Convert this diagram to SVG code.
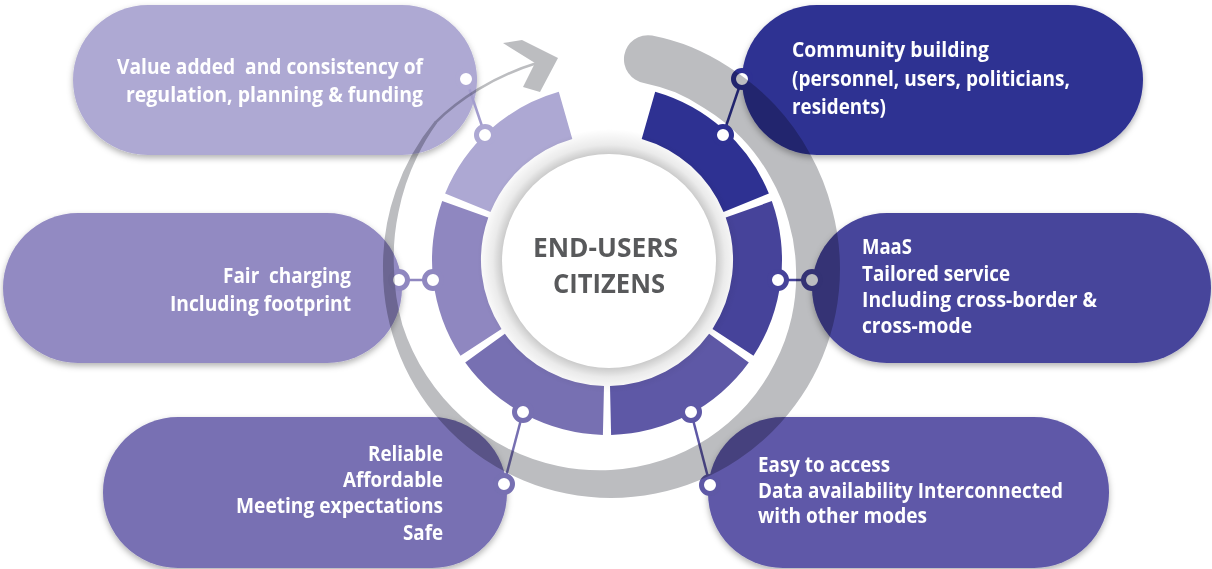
<svg xmlns="http://www.w3.org/2000/svg" width="1212" height="569" viewBox="0 0 1212 569">
<defs>
<style>
.t{font-family:"Open Sans","Noto Sans","Liberation Sans",sans-serif;font-weight:700;font-size:20.5px;fill:#ffffff}
.c{font-family:"Open Sans","Noto Sans","Liberation Sans",sans-serif;font-weight:700;font-size:26px;fill:#58595B}
.pill{filter:url(#sh)}
.ln{stroke-width:2.5;fill:none}
.dot{fill:#ffffff;stroke-width:5}
</style>
<filter id="sh" x="-10%" y="-20%" width="120%" height="140%">
<feDropShadow dx="0" dy="3" stdDeviation="3" flood-color="#000" flood-opacity="0.3"/>
</filter>
<radialGradient id="halo" cx="609" cy="261" r="132" gradientUnits="userSpaceOnUse">
<stop offset="0.79" stop-color="#000" stop-opacity="0.24"/>
<stop offset="0.88" stop-color="#000" stop-opacity="0.08"/>
<stop offset="1" stop-color="#000" stop-opacity="0"/>
</radialGradient>
</defs>
<rect width="1212" height="569" fill="#ffffff"/>

<g id="node-value">
<rect class="pill" x="73" y="5" width="404" height="150" rx="75" fill="#AEA9D3"/>
<text class="t" xml:space="preserve" x="117" y="74" textLength="306" lengthAdjust="spacingAndGlyphs">Value added  and consistency of</text>
<text class="t" x="126" y="102" textLength="297" lengthAdjust="spacingAndGlyphs">regulation, planning &amp; funding</text>
</g>
<g id="node-fair">
<rect class="pill" x="3" y="213" width="399" height="150" rx="75" fill="#928AC2"/>
<text class="t" xml:space="preserve" x="223" y="283" textLength="128" lengthAdjust="spacingAndGlyphs">Fair  charging</text>
<text class="t" x="170" y="311" textLength="181" lengthAdjust="spacingAndGlyphs">Including footprint</text>
</g>
<g id="node-reliable">
<rect class="pill" x="103" y="417" width="404" height="151" rx="75" fill="#7870B3"/>
<text class="t" x="368" y="461" textLength="75" lengthAdjust="spacingAndGlyphs">Reliable</text>
<text class="t" x="343" y="487" textLength="100" lengthAdjust="spacingAndGlyphs">Affordable</text>
<text class="t" x="236" y="513" textLength="207" lengthAdjust="spacingAndGlyphs">Meeting expectations</text>
<text class="t" x="403" y="540" textLength="40" lengthAdjust="spacingAndGlyphs">Safe</text>
</g>
<g id="node-easy">
<rect class="pill" x="708" y="417" width="401" height="151" rx="75" fill="#5F59A8"/>
<text class="t" x="758" y="472" textLength="132" lengthAdjust="spacingAndGlyphs">Easy to access</text>
<text class="t" x="758" y="498" textLength="305" lengthAdjust="spacingAndGlyphs">Data availability Interconnected</text>
<text class="t" x="758" y="523" textLength="169" lengthAdjust="spacingAndGlyphs">with other modes</text>
</g>
<g id="node-maas">
<rect class="pill" x="812" y="213" width="399" height="150" rx="75" fill="#47449B"/>
<text class="t" x="862" y="254" textLength="50" lengthAdjust="spacingAndGlyphs">MaaS</text>
<text class="t" x="862" y="281" textLength="148" lengthAdjust="spacingAndGlyphs">Tailored service</text>
<text class="t" x="862" y="307" textLength="235" lengthAdjust="spacingAndGlyphs">Including cross-border &amp;</text>
<text class="t" x="862" y="333" textLength="110" lengthAdjust="spacingAndGlyphs">cross-mode</text>
</g>
<g id="node-community">
<rect class="pill" x="742" y="5" width="401" height="150" rx="75" fill="#2E3192"/>
<text class="t" x="792" y="57" textLength="197" lengthAdjust="spacingAndGlyphs">Community building</text>
<text class="t" x="792" y="86" textLength="278" lengthAdjust="spacingAndGlyphs">(personnel, users, politicians,</text>
<text class="t" x="792" y="114" textLength="94" lengthAdjust="spacingAndGlyphs">residents)</text>
</g>

<g id="ring">
<path d="M655.2 91.8 A175 175 0 0 1 768.9 193.5 L723.5 212.1 A126 126 0 0 0 641.7 138.9 Z" fill="#2E3192"/>
<path d="M771.8 201.1 A175 175 0 0 1 753.5 355.7 L712.5 328.9 A126 126 0 0 0 725.7 217.6 Z" fill="#46439A"/>
<path d="M748.8 362.5 A175 175 0 0 1 611.1 434.9 L610 386 A126 126 0 0 0 709.1 333.8 Z" fill="#5E58A6"/>
<path d="M602.9 434.9 A175 175 0 0 1 465.2 362.5 L504.9 333.8 A126 126 0 0 0 604 386 Z" fill="#7770B2"/>
<path d="M460.5 355.7 A175 175 0 0 1 442.2 201.1 L488.3 217.6 A126 126 0 0 0 501.5 328.9 Z" fill="#8F87C0"/>
<path d="M445.1 193.5 A175 175 0 0 1 558.8 91.8 L572.3 138.9 A126 126 0 0 0 490.5 212.1 Z" fill="#ADA8D3"/>
</g>

<g id="center">
<circle cx="609" cy="261" r="132" fill="url(#halo)"/>
<circle cx="609" cy="261" r="107" fill="#ffffff"/>
<text class="c" x="533" y="257" textLength="145" lengthAdjust="spacingAndGlyphs">END-USERS</text>
<text class="c" x="553" y="293" textLength="112" lengthAdjust="spacingAndGlyphs">CITIZENS</text>
</g>

<g id="connectors">
<line class="ln" x1="485" y1="135" x2="466" y2="79" stroke="#A39DCE"/>
<circle class="dot" cx="485" cy="135" r="8.5" stroke="#ADA8D3"/>
<circle class="dot" cx="466" cy="79" r="8.5" stroke="#AEA9D3"/>
<line class="ln" x1="433" y1="280" x2="399" y2="280" stroke="#8F87C0"/>
<circle class="dot" cx="433" cy="280" r="8.5" stroke="#8F87C0"/>
<circle class="dot" cx="399" cy="280" r="8.5" stroke="#8F87C0"/>
<line class="ln" x1="523" y1="412" x2="504" y2="484" stroke="#7770B2"/>
<circle class="dot" cx="523" cy="412" r="8.5" stroke="#7770B2"/>
<circle class="dot" cx="504" cy="484" r="8.5" stroke="#7770B2"/>
<line class="ln" x1="691" y1="412" x2="710" y2="485" stroke="#5E58A6"/>
<circle class="dot" cx="691" cy="412" r="8.5" stroke="#5E58A6"/>
<circle class="dot" cx="710" cy="485" r="8.5" stroke="#5E58A6"/>
<line class="ln" x1="778" y1="280" x2="812" y2="280" stroke="#46439A"/>
<circle class="dot" cx="778" cy="280" r="8.5" stroke="#46439A"/>
<circle class="dot" cx="812" cy="280" r="8.5" stroke="#46439A"/>
<line class="ln" x1="723" y1="135" x2="742" y2="79" stroke="#2E3192"/>
<circle class="dot" cx="723" cy="135" r="8.5" stroke="#2E3192"/>
<circle class="dot" cx="742" cy="79" r="8.5" stroke="#2E3192"/>
</g>

<g id="cycle-arrow" style="mix-blend-mode:multiply">
<path fill="#BCBDC0" d="M652.1 35.6 A236.5 236.5 0 0 1 691.7 47.2 A235 235 0 0 1 728 66.4 A233 233 0 0 1 775 105 A231 231 0 0 1 810.2 154 A229.5 229.5 0 0 1 832.2 209.7 A229 229 0 0 1 840 269 A229 229 0 0 1 611 498 A228.5 228.5 0 0 1 383 269 A229 229 0 0 1 434.8 121.1 L437.1 123.1 A225 225 0 0 0 417 157 A222 222 0 0 0 398.5 212.1 A218 218 0 0 0 394 269 A216.5 216.5 0 0 0 402.4 324.9 A214.5 214.5 0 0 0 426.5 375.5 A211.5 211.5 0 0 0 462.5 417.5 A208.5 208.5 0 0 0 507.5 448.3 A205.5 205.5 0 0 0 558.2 466 A202.5 202.5 0 0 0 611 470 A199.5 199.5 0 0 0 662.2 460.3 A196.5 196.5 0 0 0 708.5 437.9 A193.5 193.5 0 0 0 746.8 404.8 A190.5 190.5 0 0 0 774.7 363.5 A188 188 0 0 0 791.6 317.4 A186 186 0 0 0 796 269 A184.5 184.5 0 0 0 788.7 221.4 A184 184 0 0 0 770.3 177 A184.5 184.5 0 0 0 741.8 138.2 A185.5 185.5 0 0 0 704 107.9 A187 187 0 0 0 675.3 92.3 A188.5 188.5 0 0 0 643.8 82.9 A24 24 0 0 1 652.1 35.6 Z"/>
<path d="M435.5 122.5 C458 100 494 76 537 63" fill="none" stroke="#BCBDC0" stroke-width="2.5"/>
<polygon points="503,43 522,40 558,58 540,92 523,87 535,63" fill="#BCBDC0"/>
</g>
</svg>
